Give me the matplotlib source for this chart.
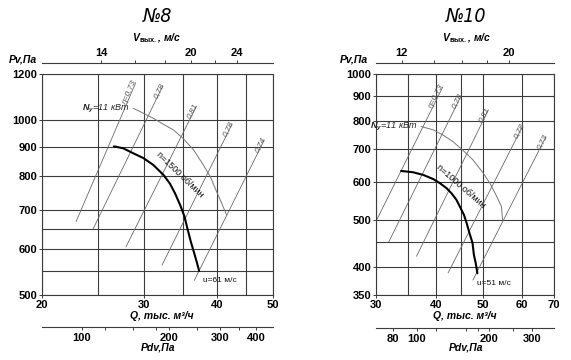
import numpy as np
import matplotlib
matplotlib.use("Agg")
import matplotlib.pyplot as plt
from matplotlib.ticker import NullFormatter

plt.rcParams['font.family'] = ['Liberation Sans', 'DejaVu Sans']
plt.rcParams['mathtext.fontset'] = 'custom'
plt.rcParams['mathtext.it'] = 'Liberation Sans:italic:bold'
plt.rcParams['mathtext.rm'] = 'Liberation Sans:bold'

# ---- №8 data (Q in thousand m3/h, Pv in Pa) ----
q8_fan = [26.6, 27.6, 28.7, 29.9, 31.1, 32.4, 33.2, 33.9, 34.6, 35.2, 35.6, 36.1, 36.6, 37.0, 37.3]
p8_fan = [901, 894, 877, 860, 837, 804, 778, 748, 714, 682, 651, 617, 589, 567, 550]
q8_power = [28.7, 29.9, 31.1, 32.4, 33.7, 35.0, 36.5, 37.9, 39.0, 40.0, 40.8, 41.6]
p8_power = [1048, 1027, 1007, 983, 961, 930, 888, 838, 799, 752, 719, 686]
eta8_q_lo = [22.9, 24.5, 27.9, 32.2, 36.6]
eta8_p_lo = [669, 650, 605, 563, 530]
eta8_q_hi = [29.0, 32.3, 36.9, 42.5, 48.3]
eta8_p_hi = [1159, 1145, 1056, 984, 924]
eta8_labels = ["η=0,73", "0,78", "0,81", "0,78", "0,74"]

# ---- №10 data ----
q10_fan = [33.8, 35.8, 37.6, 39.4, 40.7, 42.0, 43.0, 44.0, 44.7, 45.6, 46.2, 46.8, 47.5, 47.8, 48.3, 48.6]
p10_fan = [631, 627, 619, 607, 595, 581, 567, 550, 533, 512, 492, 470, 448, 424, 404, 388]
q10_power = [37.2, 39.4, 41.3, 43.3, 45.3, 47.6, 50.0, 51.6, 53.1, 54.5, 54.8]
p10_power = [779, 767, 748, 725, 697, 665, 624, 595, 563, 533, 500]
eta10_q_lo = [30.1, 31.9, 36.4, 42.3, 47.6]
eta10_p_lo = [500, 451, 421, 389, 376]
eta10_q_hi = [41.2, 44.9, 51.2, 60.3, 67.3]
eta10_p_hi = [939, 898, 843, 781, 741]
eta10_labels = ["η=0,73", "0,78", "0,81", "0,78", "0,73"]

W, H = 571, 360
GRID = '#3c3c3c'
THIN = '#6a6a6a'


def fx(px):
    return px / W


def fy(py):
    return 1 - py / H


def StyleTicks(axis_obj, which_axes):
    for lab in which_axes:
        lab.set_fontweight('bold')
    for s in axis_obj.spines.values():
        s.set_color(GRID)
        s.set_linewidth(0.8)


def PlotPanel(rect, xlim, ylim, xmajor, xminor, ymajor, yminor,
              q_fan, p_fan, q_pow, p_pow, qlo, plo, qhi, phi, eta_labels,
              v_k, v_major, v_minor, v_loc, pd_q100, pd_major, pd_minor, pd_loc,
              n_text, n_pos, n_rot, u_text, u_pos):
    ax = fig.add_axes(rect)
    ax.set_xscale('log')
    ax.set_yscale('log')
    ax.set_xlim(*xlim)
    ax.set_ylim(*ylim)

    ax.set_xticks(xmajor, labels=[str(v) for v in xmajor])
    ax.set_xticks(xminor, minor=True)
    ax.set_yticks(ymajor, labels=[str(v) for v in ymajor])
    ax.set_yticks(yminor, minor=True)
    ax.xaxis.set_minor_formatter(NullFormatter())
    ax.yaxis.set_minor_formatter(NullFormatter())
    ax.tick_params(which='both', labelsize=8, length=2.5, width=0.7, color=GRID, pad=1)
    ax.tick_params(which='minor', length=0)
    StyleTicks(ax, ax.get_xticklabels() + ax.get_yticklabels())
    ax.grid(True, which='both', color=GRID, lw=0.8)

    # efficiency lines
    for i in range(len(qlo)):
        ax.plot([qlo[i], qhi[i]], [plo[i], phi[i]], color=THIN, lw=0.6)
        a = ax.transData.transform((qlo[i], plo[i]))
        b = ax.transData.transform((qhi[i], phi[i]))
        ang = np.degrees(np.arctan2(b[1] - a[1], b[0] - a[0]))
        ax.annotate(eta_labels[i], (qhi[i], phi[i]), xytext=(2.0, 1.0),
                    textcoords='offset points', rotation=ang, rotation_mode='anchor',
                    ha='right', va='bottom', fontsize=6, style='italic', color='#555555')

    # power line
    ax.plot(q_pow, p_pow, color='#777777', lw=0.7)
    ax.annotate(r'$N_{у}$=11 кВт', (q_pow[0], p_pow[0]), xytext=(-2.5, -0.5),
                textcoords='offset points', ha='right', va='center', fontsize=6.5,
                style='italic', color='#222222')

    # fan curve
    ax.plot(q_fan, p_fan, color='black', lw=1.5, solid_capstyle='round')
    ax.text(n_pos[0], n_pos[1], n_text, rotation=n_rot, ha='center', va='center',
            fontsize=6.5, color='#111111')
    ax.text(u_pos[0], u_pos[1], u_text, ha='left', va='center', fontsize=6, color='#111111')

    # outlet velocity scale on top
    sec = ax.secondary_xaxis(v_loc, functions=(lambda q: q * v_k, lambda v: v / v_k))
    sec.set_xticks(v_major, labels=[str(v) for v in v_major])
    sec.set_xticks(v_minor, minor=True)
    sec.xaxis.set_minor_formatter(NullFormatter())
    sec.tick_params(which='both', labelsize=8, length=2.5, width=0.7, color=GRID, pad=1)
    StyleTicks(sec, sec.get_xticklabels())

    # dynamic pressure scale at bottom
    pd = ax.secondary_xaxis(pd_loc, functions=(lambda q: 100 * (q / pd_q100) ** 2,
                                               lambda p: pd_q100 * np.sqrt(np.maximum(p, 1e-9) / 100)))
    pd.set_xticks(pd_major, labels=[str(v) for v in pd_major])
    pd.set_xticks(pd_minor, minor=True)
    pd.xaxis.set_minor_formatter(NullFormatter())
    pd.tick_params(which='both', labelsize=8, length=2.5, width=0.7, color=GRID, pad=1.5)
    StyleTicks(pd, pd.get_xticklabels())
    return ax


fig = plt.figure(figsize=(W / 100, H / 100), dpi=100)

ax8 = PlotPanel([fx(42), fy(295), 231 / W, 221 / H], (20, 50), (500, 1200),
                [20, 30, 40, 50], [25, 35, 45],
                [500, 600, 700, 800, 900, 1000, 1200], [550, 650],
                q8_fan, p8_fan, q8_power, p8_power,
                eta8_q_lo, eta8_p_lo, eta8_q_hi, eta8_p_hi, eta8_labels,
                14 / 25.3, [14, 20, 24], [16, 18, 22], 1.05,
                23.4, [100, 200, 300, 400], [120, 150, 180, 250, 350], -0.145,
                "n=1500 об/мин", (34.5, 805), -44, "u=61 м/с", (37.9, 529))

ax10 = PlotPanel([fx(376), fy(295), 178 / W, 221 / H], (30, 70), (350, 1000),
                 [30, 40, 50, 60, 70], [35, 45],
                 [350, 400, 500, 600, 700, 800, 900, 1000], [450],
                 q10_fan, p10_fan, q10_power, p10_power,
                 eta10_q_lo, eta10_p_lo, eta10_q_hi, eta10_p_hi, eta10_labels,
                 12 / 33.9, [12, 20], [14, 16, 18], 1.05,
                 36.4, [80, 100, 200, 300], [120, 160, 180, 250], -0.15,
                 "n=1000 об/мин", (45.0, 586), -41, "u=51 м/с", (48.5, 369))

title_font = dict(family=['Liberation Sans Narrow', 'DejaVu Sans'], style='italic',
                  fontsize=14, fontstretch='condensed')
fig.text(fx(157), fy(16), "№8", ha='center', va='center', **title_font)
fig.text(fx(466), fy(16), "№10", ha='center', va='center', **title_font)

for cx in (157, 467):
    fig.text(fx(cx), fy(38), r"V$_{\mathrm{вых.}}$, м/с", ha='center', va='center',
             fontsize=7.5, fontweight='bold', style='italic')

lab_font = dict(fontsize=7.5, fontweight='bold', style='italic')
fig.text(fx(37), fy(59), "Pv,Па", ha='right', va='center', **lab_font)
fig.text(fx(368), fy(59), "Pv,Па", ha='right', va='center', **lab_font)
fig.text(fx(162), fy(316), "Q, тыс. м³/ч", ha='center', va='center', **lab_font)
fig.text(fx(465), fy(316), "Q, тыс. м³/ч", ha='center', va='center', **lab_font)
fig.text(fx(158), fy(347), "Pdv,Па", ha='center', va='center', **lab_font)
fig.text(fx(466), fy(347), "Pdv,Па", ha='center', va='center', **lab_font)

fig.savefig("out.png", dpi=100)
